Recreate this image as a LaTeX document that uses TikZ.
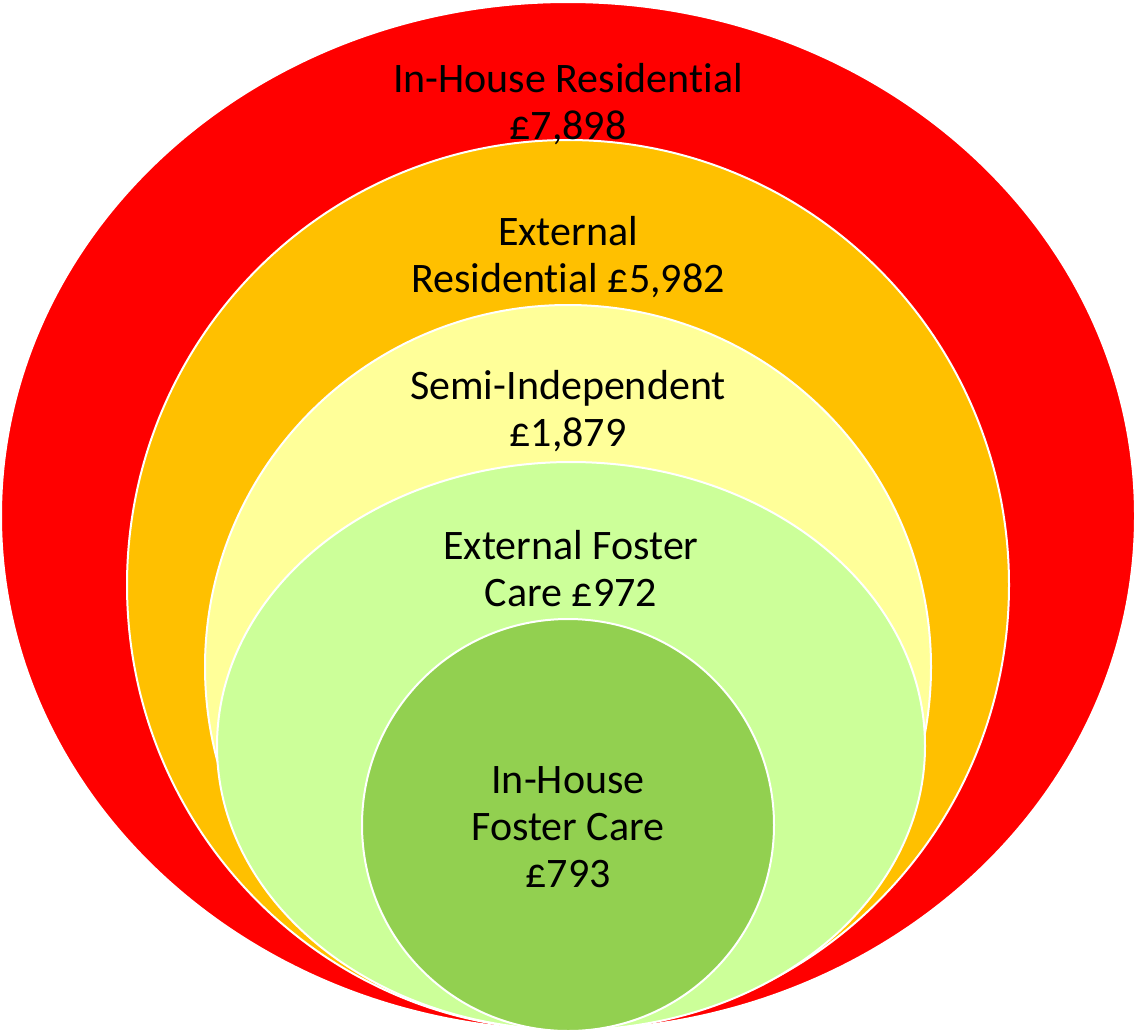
\documentclass[tikz,border=0pt]{standalone}
\usepackage{fontspec}
\setmainfont{Carlito}[Ligatures={NoCommon,TeX}]
\definecolor{ringRed}{HTML}{FF0000}
\definecolor{ringOrange}{HTML}{FFC000}
\definecolor{ringYellow}{HTML}{FFFF99}
\definecolor{ringLime}{HTML}{CCFF99}
\definecolor{ringGreen}{HTML}{92D050}
\tikzset{
	ring/.style={draw=white, line width=2pt},
	lbl/.style={align=center, font=\fontsize{42}{47}\selectfont, inner sep=0pt}
}

\begin{document}
\begin{tikzpicture}[x=1pt, y=-1pt]
			%%%%% START %%%%%
			\useasboundingbox (0, 0) rectangle (1135, 1034);
			
			\draw[ring, fill=ringRed] (568, 516) ellipse [x radius=567pt, y radius=514pt];
			\draw[ring, fill=ringOrange] (568, 585) ellipse [x radius=441pt, y radius=445pt];
			\draw[ring, fill=ringYellow] (568, 667) ellipse [x radius=363pt, y radius=362pt];
			\draw[ring, fill=ringLime] (571, 746) ellipse [x radius=354pt, y radius=284pt];
			\draw[ring, fill=ringGreen] (568, 825) circle (206pt);
			
			\node[lbl] (inhouseres) at (568, 104) {In-House Residential\\£7,898};
			\node[lbl] (externalres) at (568, 257) {External\\Residential £5,982};
			\node[lbl] (semiindep) at (568, 411) {Semi-Independent\\£1,879};
			\node[lbl] (externalfoster) at (571, 569) {External Foster\\Care £972};
			\node[lbl] (inhousefoster) at (568, 827) {In-House\\Foster Care\\£793};
			
			%%%%% END %%%%%
\end{tikzpicture}
\end{document}
